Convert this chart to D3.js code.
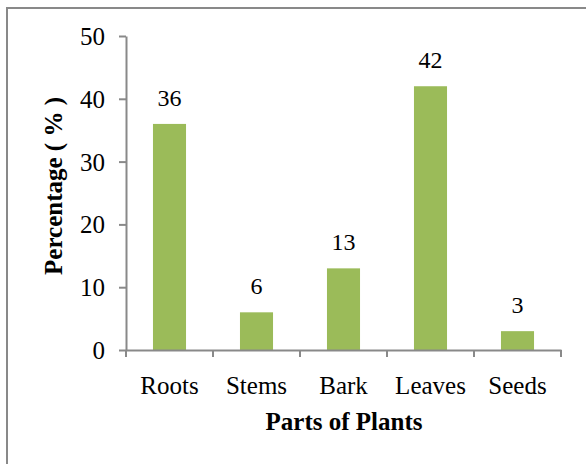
<!DOCTYPE html>
<html>
<head>
<meta charset="utf-8">
<script src="https://cdn.jsdelivr.net/npm/d3@7"></script>
<style>
  body { margin: 0; background: #fff; }
</style>
</head>
<body>
<div id="chart"></div>
<script>
// Data
var parts = ["Roots", "Stems", "Bark", "Leaves", "Seeds"];
var percent = [36, 6, 13, 42, 3];
var yTicks = [0, 10, 20, 30, 40, 50];

var width = 586;
var height = 464;
var axisColor = "#898989";
var barColor = "#9BBB59";
var serif = '"Liberation Serif", "Times New Roman", Times, serif';

var svg = d3.select("#chart").append("svg")
    .attr("width", width)
    .attr("height", height)
    .style("font-family", serif);

// outer frame (right and bottom edges fall off the picture)
svg.append("rect")
    .attr("x", 7).attr("y", 8)
    .attr("width", 600).attr("height", 480)
    .attr("fill", "none")
    .attr("stroke", axisColor)
    .attr("stroke-width", 2);

var x = d3.scaleBand()
    .domain(parts)
    .range([126, 561])
    .padding(0);

var y = d3.scaleLinear()
    .domain([0, 50])
    .range([350, 36]);

var barW = x.bandwidth() * 0.38;

// bars
svg.selectAll("rect.bar")
    .data(parts)
    .enter().append("rect")
    .attr("class", "bar")
    .attr("x", function(d) { return x(d) + (x.bandwidth() - barW) / 2; })
    .attr("y", function(d, i) { return y(percent[i]); })
    .attr("width", barW)
    .attr("height", function(d, i) { return y(0) - y(percent[i]); })
    .attr("fill", barColor);

// value labels
svg.selectAll("text.val")
    .data(parts)
    .enter().append("text")
    .attr("class", "val")
    .attr("x", function(d) { return x(d) + x.bandwidth() / 2; })
    .attr("y", function(d, i) { return y(percent[i]) - 18; })
    .attr("text-anchor", "middle")
    .style("font-family", serif)
    .style("font-size", "24px")
    .text(function(d, i) { return percent[i]; });

// y axis
var yAxis = svg.append("g")
    .attr("transform", "translate(126,0)")
    .call(d3.axisLeft(y).tickValues(yTicks).tickSize(7).tickSizeOuter(0).tickPadding(14));
yAxis.attr("font-family", null);
yAxis.selectAll("path, line").attr("stroke", axisColor).attr("stroke-width", 2);
yAxis.selectAll("text")
    .style("font-family", serif)
    .style("font-size", "25px")
    .attr("dy", "0.34em");

// x axis
var xAxis = svg.append("g")
    .attr("transform", "translate(0,350)")
    .call(d3.axisBottom(x).tickSize(0).tickSizeOuter(0).tickPadding(26));
xAxis.attr("font-family", null);
xAxis.select("path").attr("stroke", axisColor).attr("stroke-width", 2);
xAxis.selectAll("text")
    .style("font-family", serif)
    .style("font-size", "25px");

// category boundary ticks
var bounds = parts.map(function(d) { return x(d); }).concat([x.range()[1]]);
svg.selectAll("line.bound")
    .data(bounds)
    .enter().append("line")
    .attr("class", "bound")
    .attr("x1", function(d) { return d; })
    .attr("x2", function(d) { return d; })
    .attr("y1", 350).attr("y2", 357)
    .attr("stroke", axisColor)
    .attr("stroke-width", 2);

// axis titles
svg.append("text")
    .attr("x", 344).attr("y", 430)
    .attr("text-anchor", "middle")
    .style("font-family", serif)
    .style("font-size", "25px")
    .style("font-weight", "bold")
    .text("Parts of Plants");

svg.append("text")
    .attr("transform", "translate(62,186) rotate(-90)")
    .attr("text-anchor", "middle")
    .style("font-family", serif)
    .style("font-size", "25px")
    .style("font-weight", "bold")
    .text("Percentage ( % )");
</script>
</body>
</html>
